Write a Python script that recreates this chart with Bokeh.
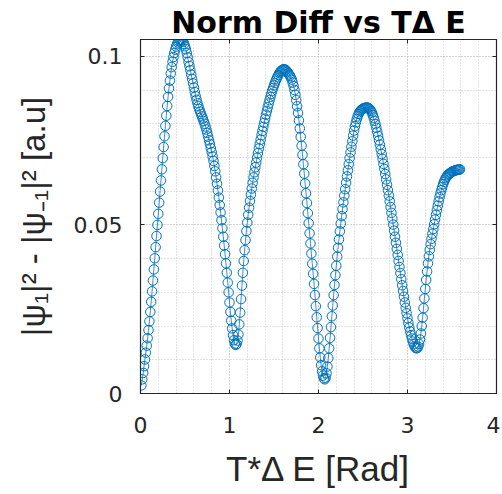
from bokeh.plotting import figure
from bokeh.models import (Range1d, LinearAxis, SingleIntervalTicker,
                          CustomJSTickFormatter, ColumnDataSource)
from bokeh.embed import file_html
from bokeh.resources import INLINE

# ---- data ----
# samples of T*dE start at 0.01 and are spaced 0.01 apart
T_START = 0.01
T_STEP = 0.01
norm_diff = [
    0.0024, 0.0042, 0.0061, 0.0081, 0.0101, 0.0121, 0.0142, 0.0164, 0.0188, 0.0214,
    0.0242, 0.0272, 0.0303, 0.0335, 0.0368, 0.0401, 0.0434, 0.0467, 0.0500, 0.0533,
    0.0566, 0.0599, 0.0632, 0.0665, 0.0698, 0.0731, 0.0763, 0.0794, 0.0824, 0.0853,
    0.0880, 0.0905, 0.0928, 0.0949, 0.0968, 0.0984, 0.0998, 0.1010, 0.1020, 0.1029,
    0.1036, 0.1041, 0.1045, 0.1048, 0.1049, 0.1049, 0.1047, 0.1043, 0.1037, 0.1030,
    0.1021, 0.1010, 0.0997, 0.0983, 0.0971, 0.0959, 0.0946, 0.0933, 0.0920, 0.0907,
    0.0894, 0.0882, 0.0871, 0.0861, 0.0852, 0.0844, 0.0836, 0.0829, 0.0822, 0.0815,
    0.0808, 0.0800, 0.0792, 0.0783, 0.0773, 0.0762, 0.0751, 0.0740, 0.0728, 0.0716,
    0.0703, 0.0690, 0.0675, 0.0659, 0.0641, 0.0622, 0.0602, 0.0581, 0.0559, 0.0537,
    0.0514, 0.0490, 0.0465, 0.0439, 0.0413, 0.0386, 0.0358, 0.0329, 0.0300, 0.0270,
    0.0242, 0.0216, 0.0193, 0.0173, 0.0158, 0.0148, 0.0144, 0.0147, 0.0157, 0.0175,
    0.0205, 0.0240, 0.0280, 0.0320, 0.0358, 0.0393, 0.0425, 0.0455, 0.0482, 0.0507,
    0.0530, 0.0551, 0.0571, 0.0590, 0.0608, 0.0625, 0.0641, 0.0656, 0.0671, 0.0685,
    0.0699, 0.0713, 0.0727, 0.0740, 0.0753, 0.0766, 0.0779, 0.0791, 0.0803, 0.0815,
    0.0827, 0.0838, 0.0849, 0.0860, 0.0870, 0.0880, 0.0889, 0.0898, 0.0906, 0.0914,
    0.0921, 0.0928, 0.0934, 0.0940, 0.0945, 0.0950, 0.0954, 0.0957, 0.0959, 0.0961,
    0.0962, 0.0961, 0.0960, 0.0957, 0.0954, 0.0950, 0.0946, 0.0942, 0.0937, 0.0931,
    0.0922, 0.0912, 0.0900, 0.0886, 0.0870, 0.0852, 0.0832, 0.0810, 0.0786, 0.0761,
    0.0735, 0.0708, 0.0680, 0.0652, 0.0623, 0.0594, 0.0565, 0.0535, 0.0505, 0.0475,
    0.0445, 0.0415, 0.0385, 0.0355, 0.0325, 0.0292, 0.0259, 0.0226, 0.0194, 0.0163,
    0.0134, 0.0107, 0.0084, 0.0066, 0.0053, 0.0045, 0.0042, 0.0047, 0.0060, 0.0080,
    0.0105, 0.0134, 0.0165, 0.0197, 0.0229, 0.0261, 0.0292, 0.0322, 0.0351, 0.0379,
    0.0406, 0.0432, 0.0457, 0.0481, 0.0504, 0.0526, 0.0547, 0.0567, 0.0587, 0.0606,
    0.0625, 0.0644, 0.0662, 0.0680, 0.0698, 0.0715, 0.0732, 0.0748, 0.0765, 0.0780,
    0.0793, 0.0804, 0.0814, 0.0822, 0.0829, 0.0834, 0.0838, 0.0841, 0.0843, 0.0845,
    0.0846, 0.0847, 0.0848, 0.0848, 0.0848, 0.0847, 0.0845, 0.0842, 0.0838, 0.0833,
    0.0826, 0.0818, 0.0809, 0.0799, 0.0788, 0.0776, 0.0764, 0.0751, 0.0738, 0.0724,
    0.0710, 0.0696, 0.0681, 0.0666, 0.0651, 0.0635, 0.0619, 0.0603, 0.0587, 0.0570,
    0.0553, 0.0536, 0.0519, 0.0501, 0.0483, 0.0465, 0.0447, 0.0429, 0.0411, 0.0393,
    0.0375, 0.0357, 0.0339, 0.0321, 0.0304, 0.0287, 0.0270, 0.0254, 0.0238, 0.0223,
    0.0209, 0.0196, 0.0184, 0.0173, 0.0163, 0.0154, 0.0146, 0.0140, 0.0136, 0.0134,
    0.0135, 0.0139, 0.0147, 0.0160, 0.0178, 0.0200, 0.0225, 0.0253, 0.0282, 0.0310,
    0.0337, 0.0362, 0.0386, 0.0407, 0.0426, 0.0443, 0.0459, 0.0474, 0.0488, 0.0502,
    0.0516, 0.0530, 0.0544, 0.0557, 0.0570, 0.0582, 0.0593, 0.0603, 0.0612, 0.0621,
    0.0628, 0.0634, 0.0639, 0.0643, 0.0647, 0.0650, 0.0652, 0.0654, 0.0656, 0.0658,
    0.0659, 0.0660, 0.0661, 0.0662, 0.0663, 0.0663, 0.0664, 0.0664, 0.0665,
]
t_de = [round(T_START + i * T_STEP, 2) for i in range(len(norm_diff))]

X_MIN, X_MAX = 0, 4
Y_MIN, Y_MAX = 0, 0.105

TITLE = "Norm Diff vs T\u0394 E"
X_LABEL = "T*\u0394 E [Rad]"
Y_LABEL = "|\u03c8\u2081|\u00b2 - |\u03c8\u208b\u2081|\u00b2 [a.u]"

BLUE = "#0072BD"
DARK = "#262626"
GRID = "#c4c4c4"

src = ColumnDataSource(dict(x=t_de, y=norm_diff))

p = figure(width=500, height=492, output_backend="svg", toolbar_location=None,
           x_range=Range1d(X_MIN, X_MAX), y_range=Range1d(Y_MIN, Y_MAX),
           min_border_left=140, min_border_right=4, min_border_top=39,
           min_border_bottom=99, background_fill_color="white",
           border_fill_color="white")

p.outline_line_color = DARK
p.outline_line_width = 1.2
p.outline_line_alpha = 1

xt = SingleIntervalTicker(interval=1, num_minor_ticks=5)
yt = SingleIntervalTicker(interval=0.05, num_minor_ticks=5)

fmt = CustomJSTickFormatter(code="""
    var s = tick.toFixed(2);
    s = s.replace(/0+$/, '').replace(/\\.$/, '');
    return s;
""")

for ax, tk in ((p.xaxis[0], xt), (p.yaxis[0], yt)):
    ax.ticker = tk
    ax.major_tick_in = 4
    ax.major_tick_out = 0
    ax.minor_tick_line_color = None
    ax.axis_line_color = DARK
    ax.major_tick_line_color = DARK
    ax.major_label_text_font = "DejaVu Sans"
    ax.major_label_text_font_size = "22px"
    ax.major_label_text_color = DARK
    ax.axis_label_text_font = "Liberation Sans"
    ax.axis_label_text_font_style = "normal"
    ax.axis_label_text_color = DARK

p.yaxis[0].formatter = fmt
p.xaxis[0].formatter = fmt
p.xaxis[0].axis_label = X_LABEL
p.yaxis[0].axis_label = Y_LABEL
p.xaxis[0].axis_label_text_font_size = "35px"
p.yaxis[0].axis_label_text_font_size = "33px"
p.xaxis[0].major_label_standoff = 19
p.xaxis[0].axis_label_standoff = 13
p.yaxis[0].major_label_standoff = 14
p.yaxis[0].axis_label_standoff = 19

blank = CustomJSTickFormatter(code="return '';")

# top axis: mirrored ticks, carries the bold title as its label
top_ax = LinearAxis(ticker=xt, formatter=blank, major_tick_in=4, major_tick_out=0,
                    minor_tick_line_color=None, axis_line_color=DARK,
                    major_tick_line_color=DARK, major_label_standoff=0,
                    major_label_text_font_size="1px",
                    axis_label=TITLE, axis_label_standoff=-4,
                    axis_label_text_font="DejaVu Sans",
                    axis_label_text_font_style="bold",
                    axis_label_text_font_size="30px",
                    axis_label_text_color="black")
p.add_layout(top_ax, "above")

right_ax = LinearAxis(ticker=yt, formatter=blank, major_tick_in=4, major_tick_out=0,
                      minor_tick_line_color=None, axis_line_color=DARK,
                      major_tick_line_color=DARK, major_label_standoff=0,
                      major_label_text_font_size="1px")
p.add_layout(right_ax, "right")

for g in (p.xgrid[0], p.ygrid[0]):
    g.grid_line_color = GRID
    g.grid_line_dash = "1 2"
    g.grid_line_width = 1
    g.minor_grid_line_color = GRID
    g.minor_grid_line_dash = "1 2"
    g.minor_grid_line_width = 1

p.line("x", "y", source=src, line_color=BLUE, line_width=0.8)
p.scatter("x", "y", source=src, marker="circle", size=9.5, fill_color=None,
          line_color=BLUE, line_width=1.0)

open("out.html", "w").write(file_html(p, INLINE))
